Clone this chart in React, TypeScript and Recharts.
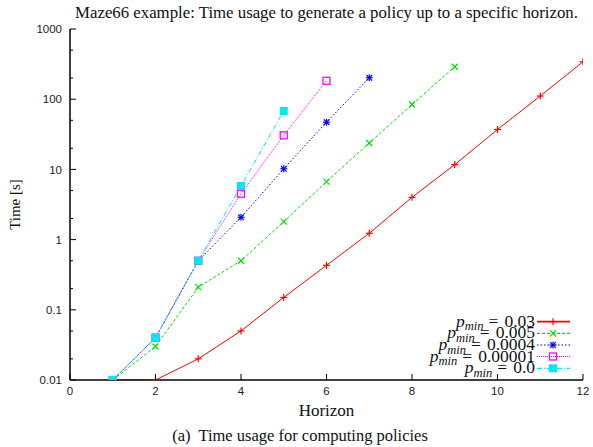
import React from 'react';
import { LineChart, Line, XAxis, YAxis, Legend } from 'recharts';

// ---- data ----
const horizons = [1, 2, 3, 4, 5, 6, 7, 8, 9, 10, 11, 12];
const pmin003 = [0.01, 0.01, 0.02, 0.05, 0.15, 0.43, 1.23, 4.0, 11.7, 37, 111, 341];
const pmin0005 = [0.01, 0.03, 0.21, 0.5, 1.8, 6.7, 23.8, 84, 290];
const pmin00004 = [0.01, 0.04, 0.5, 2.08, 10.2, 47, 202];
const pmin0000001 = [0.01, 0.04, 0.5, 4.5, 30.6, 183];
const pmin00 = [0.01, 0.04, 0.5, 5.8, 68];

const seriesValues = ['0.03', '0.005', '0.0004', '0.00001', '0.0'];
const xTicks = [0, 2, 4, 6, 8, 10, 12];
const yMajorTicks = [0.01, 0.1, 1, 10, 100, 1000];
const yTickLabels = ['0.01', '0.1', '1', '10', '100', '1000'];
const yAllTicks = [0.01, 0.02, 0.05, 0.1, 0.2, 0.5, 1, 2, 5, 10, 20, 50, 100, 200, 500, 1000];

const titleText = 'Maze66 example: Time usage to generate a policy up to a specific horizon.';
const xLabelText = 'Horizon';
const yLabelText = 'Time [s]';
const captionText = '(a)  Time usage for computing policies';

const data = horizons.map((h, i) => ({
  h,
  s0: pmin003[i] ?? null,
  s1: pmin0005[i] ?? null,
  s2: pmin00004[i] ?? null,
  s3: pmin0000001[i] ?? null,
  s4: pmin00[i] ?? null,
}));

const SERIF = '"Liberation Serif", "Times New Roman", serif';
const SANS = '"Liberation Sans", Arial, sans-serif';

type Marker = 'plus' | 'x' | 'star' | 'sq' | 'fsq';

const series: { key: string; color: string; dash?: string; marker: Marker }[] = [
  { key: 's0', color: '#ff0000', marker: 'plus' },
  { key: 's1', color: '#00e000', dash: '3 2', marker: 'x' },
  { key: 's2', color: '#0000ff', dash: '1.5 2', marker: 'star' },
  { key: 's3', color: '#ff00ff', dash: '1 1', marker: 'sq' },
  { key: 's4', color: '#00e8f0', dash: '5 2 1 2', marker: 'fsq' },
];

function markerShape(m: Marker, cx: number, cy: number, color: string, key?: string) {
  const s = 3.5;
  switch (m) {
    case 'plus':
      return (
        <g key={key}>
          <line x1={cx - s} x2={cx + s} y1={cy} y2={cy} stroke={color} strokeWidth={1.2} />
          <line x1={cx} x2={cx} y1={cy - s} y2={cy + s} stroke={color} strokeWidth={1.2} />
        </g>
      );
    case 'x':
      return (
        <g key={key}>
          <line x1={cx - 3} x2={cx + 3} y1={cy - 3} y2={cy + 3} stroke={color} strokeWidth={1.2} />
          <line x1={cx - 3} x2={cx + 3} y1={cy + 3} y2={cy - 3} stroke={color} strokeWidth={1.2} />
        </g>
      );
    case 'star':
      return (
        <g key={key}>
          <line x1={cx - s} x2={cx + s} y1={cy} y2={cy} stroke={color} strokeWidth={1.2} />
          <line x1={cx} x2={cx} y1={cy - s} y2={cy + s} stroke={color} strokeWidth={1.2} />
          <line x1={cx - 2.8} x2={cx + 2.8} y1={cy - 2.8} y2={cy + 2.8} stroke={color} strokeWidth={1.2} />
          <line x1={cx - 2.8} x2={cx + 2.8} y1={cy + 2.8} y2={cy - 2.8} stroke={color} strokeWidth={1.2} />
        </g>
      );
    case 'sq':
      return (
        <g key={key}>
          <rect x={cx - 3.5} y={cy - 3.5} width={7} height={7} fill="none" stroke={color} strokeWidth={1.3} />
        </g>
      );
    default:
      return (
        <g key={key}>
          <rect x={cx - 4} y={cy - 4} width={8} height={8} fill={color} />
        </g>
      );
  }
}

const makeDot = (m: Marker, color: string) => (props: any) => {
  const { cx, cy, index, value } = props;
  if (cx == null || cy == null || value == null || Number.isNaN(cy)) return <g key={`e${index}`} />;
  return markerShape(m, cx, cy, color, `d${index}`);
};

const isMajor = (v: number) => yMajorTicks.findIndex((t) => Math.abs(t - v) / t < 1e-6);

const LeftTick = (props: any) => {
  const { x, y, payload } = props;
  const idx = isMajor(payload.value);
  const ax = x + 8;
  return (
    <g>
      <line x1={ax} x2={ax + (idx >= 0 ? 6 : 3)} y1={y} y2={y} stroke="#000" strokeWidth={1} />
      {idx >= 0 && (
        <text x={x} y={y} dy="0.36em" textAnchor="end" fontFamily={SANS} fontSize={11.5} fill="#222">
          {yTickLabels[idx]}
        </text>
      )}
    </g>
  );
};

const RightTick = (props: any) => {
  const { x, y, payload } = props;
  const idx = isMajor(payload.value);
  return <line x1={x} x2={x - (idx >= 0 ? 6 : 3)} y1={y} y2={y} stroke="#000" strokeWidth={1} />;
};

const BottomTick = (props: any) => {
  const { x, y, payload } = props;
  const ay = y - 7;
  return (
    <g>
      <line x1={x} x2={x} y1={ay} y2={ay - 6} stroke="#000" strokeWidth={1} />
      <text x={x} y={y} dy="0.72em" textAnchor="middle" fontFamily={SANS} fontSize={11.5} fill="#222">
        {payload.value}
      </text>
    </g>
  );
};

const TopTick = (props: any) => {
  const { x, y } = props;
  return <line x1={x} x2={x} y1={y} y2={y + 6} stroke="#000" strokeWidth={1} />;
};

const XLabel = (props: any) => {
  const vb = props.viewBox || {};
  return (
    <text x={vb.x + vb.width / 2} y={vb.y + 36} textAnchor="middle" fontFamily={SERIF} fontSize={17} fill="#111">
      {xLabelText}
    </text>
  );
};

const YLabel = (props: any) => {
  const vb = props.viewBox || {};
  const cx = vb.x + 10;
  const cy = vb.y + vb.height / 2;
  return (
    <text x={cx} y={cy} transform={`rotate(-90, ${cx}, ${cy})`} textAnchor="middle" fontFamily={SERIF} fontSize={15} fill="#111">
      {yLabelText}
    </text>
  );
};

const LegendBox = () => {
  const rows = [9.7, 21.3, 33, 44.5, 56.3];
  return (
    <svg width={175} height={66} style={{ overflow: 'visible', display: 'block' }}>
      {series.map((s, i) => {
        const y = rows[i];
        return (
          <g key={s.key}>
            <text x={130} y={y + 5} textAnchor="end" fontFamily={SERIF} fontSize={17.5} fill="#111">
              <tspan fontStyle="italic">p</tspan>
              <tspan fontStyle="italic" fontSize={12.5} dy={3.5}>min</tspan>
              <tspan dy={-3.5} dx={5}>=</tspan>
              <tspan dx={6}>{seriesValues[i]}</tspan>
            </text>
            <line x1={132} x2={165} y1={y} y2={y} stroke={s.color} strokeWidth={i === 0 ? 1.8 : 1.2} strokeDasharray={s.dash} />
            {markerShape(s.marker, 148, y, s.color)}
          </g>
        );
      })}
    </svg>
  );
};

export default function App() {
  return (
    <div style={{ position: 'absolute', left: 0, top: 0, width: 593, height: 447, background: '#fff' }}>
      <LineChart width={593} height={447} data={data} margin={{ top: 29, right: 10, bottom: 37, left: 10 }}>
        <XAxis
          dataKey="h"
          type="number"
          domain={[0, 12]}
          ticks={xTicks}
          interval={0}
          height={30}
          tickSize={0}
          tickMargin={7}
          tickLine={false}
          axisLine={{ stroke: '#000', strokeWidth: 1.5 }}
          tick={<BottomTick />}
          allowDataOverflow
          label={<XLabel />}
        />
        <XAxis
          xAxisId="top"
          orientation="top"
          dataKey="h"
          type="number"
          domain={[0, 12]}
          ticks={xTicks}
          interval={0}
          height={0}
          tickSize={0}
          tickMargin={0}
          tickLine={false}
          axisLine={{ stroke: '#000', strokeWidth: 1.5 }}
          tick={<TopTick />}
          allowDataOverflow
        />
        <YAxis
          type="number"
          scale="log"
          domain={[0.01, 1000]}
          ticks={yAllTicks}
          interval={0}
          width={60}
          tickSize={0}
          tickMargin={8}
          tickLine={false}
          axisLine={{ stroke: '#000', strokeWidth: 1.5 }}
          tick={<LeftTick />}
          allowDataOverflow
          label={<YLabel />}
        />
        <YAxis
          yAxisId="right"
          orientation="right"
          type="number"
          scale="log"
          domain={[0.01, 1000]}
          ticks={yAllTicks}
          interval={0}
          width={0}
          tickSize={0}
          tickMargin={0}
          tickLine={false}
          axisLine={{ stroke: '#000', strokeWidth: 1.5 }}
          tick={<RightTick />}
          allowDataOverflow
        />
        {series.map((s) => (
          <Line
            key={s.key}
            dataKey={s.key}
            type="linear"
            stroke={s.color}
            strokeWidth={1}
            strokeDasharray={s.dash}
            dot={makeDot(s.marker, s.color)}
            activeDot={false}
            isAnimationActive={false}
            connectNulls={false}
          />
        ))}
        <Legend
          layout="vertical"
          align="center"
          verticalAlign="middle"
          wrapperStyle={{ left: 405, top: 312, width: 175, height: 66 }}
          content={() => <LegendBox />}
        />
      </LineChart>
      <svg width={593} height={447} style={{ position: 'absolute', left: 0, top: 0, pointerEvents: 'none' }}>
        <text x={326.5} y={18} textAnchor="middle" fontFamily={SERIF} fontSize={16.8} fill="#111">
          {titleText}
        </text>
        <text x={300} y={441} textAnchor="middle" fontFamily={SERIF} fontSize={16.5} fill="#111" style={{ whiteSpace: 'pre' }}>
          {captionText}
        </text>
      </svg>
    </div>
  );
}
